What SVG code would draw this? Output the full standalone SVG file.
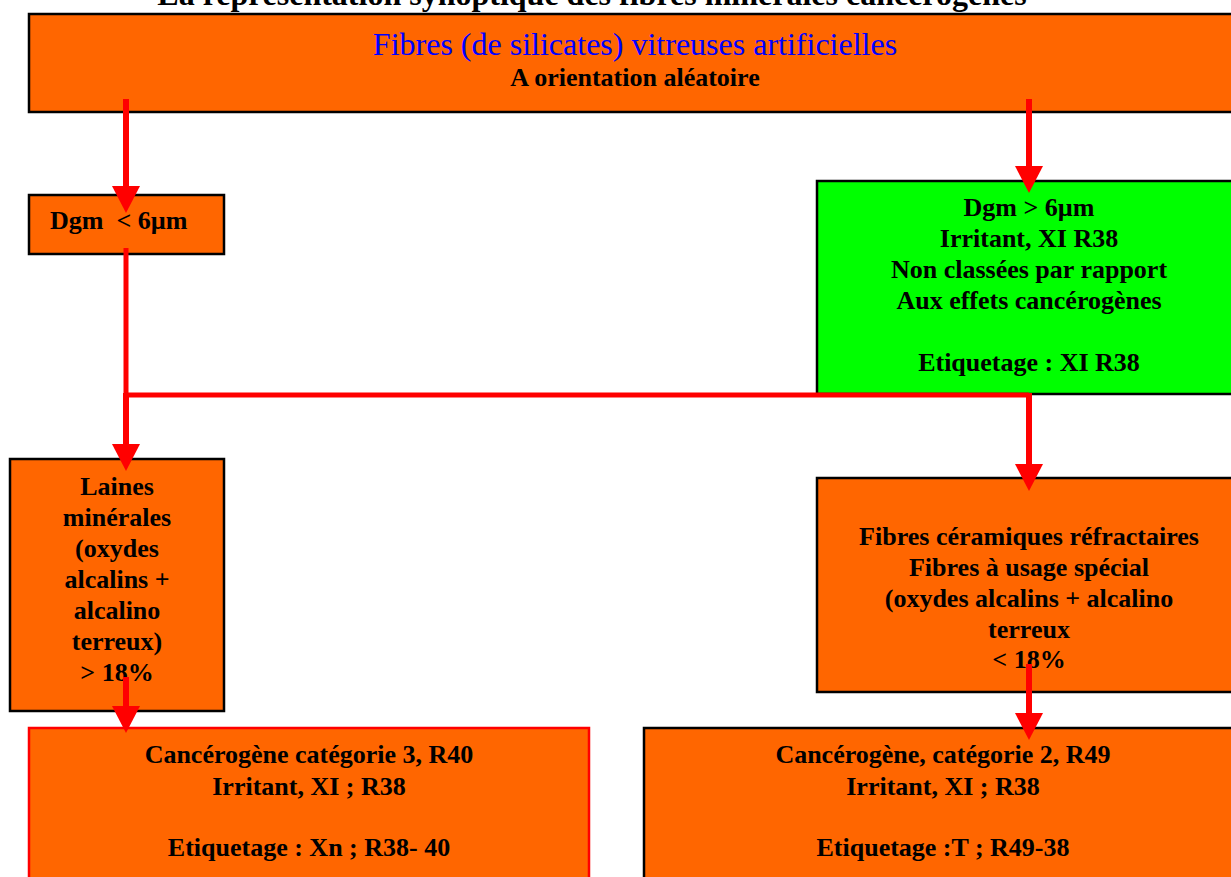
<svg xmlns="http://www.w3.org/2000/svg" width="1231" height="877" viewBox="0 0 1231 877">
<defs>
<style>
.t{font-family:"Liberation Serif","Times New Roman",serif;font-weight:bold;font-size:26px;fill:#000;text-anchor:middle}
.blue{font-family:"Liberation Serif","Times New Roman",serif;font-size:32px;fill:#0000FF;text-anchor:middle}
.title{font-family:"Liberation Serif","Times New Roman",serif;font-weight:bold;font-size:32px;fill:#000;text-anchor:middle}
.orange{fill:#FF6600;stroke:#000;stroke-width:2.5}
.green{fill:#00FF00;stroke:#000;stroke-width:2.5}
.redb{fill:#FF6600;stroke:#FF0000;stroke-width:2.5}
.c{fill:none;stroke:#FF0000;stroke-width:6}
</style>
<marker id="ah" markerUnits="userSpaceOnUse" markerWidth="28" markerHeight="28" viewBox="0 0 27 28" refX="3" refY="14" orient="auto">
<path d="M0,0 L27,14 L0,28 z" fill="#FF0000"/>
</marker>
</defs>
<rect width="1231" height="877" fill="#fff"/>
<text class="title" x="592" y="5">La représentation synoptique des fibres minérales cancérogènes</text>

<g id="top">
<rect class="orange" x="29" y="14" width="1213" height="98"/>
<text class="blue" x="635" y="55">Fibres (de silicates) vitreuses artificielles</text>
<text class="t" x="635" y="86">A orientation aléatoire</text>
</g>

<g id="dgm-small">
<rect class="orange" x="29" y="195" width="195" height="59"/>
<text class="t" x="50" y="229" style="text-anchor:start;white-space:pre" xml:space="preserve">Dgm  &lt; 6µm</text>
</g>

<g id="dgm-large">
<rect class="green" x="817" y="181" width="425" height="213"/>
<text class="t" x="1029" y="216">Dgm &gt; 6µm</text>
<text class="t" x="1029" y="247">Irritant, XI R38</text>
<text class="t" x="1029" y="278">Non classées par rapport</text>
<text class="t" x="1029" y="309">Aux effets cancérogènes</text>
<text class="t" x="1029" y="371">Etiquetage : XI R38</text>
</g>

<g id="laines">
<rect class="orange" x="10" y="459" width="214" height="252"/>
<text class="t" x="117" y="495">Laines</text>
<text class="t" x="117" y="526">minérales</text>
<text class="t" x="117" y="557">(oxydes</text>
<text class="t" x="117" y="588">alcalins +</text>
<text class="t" x="117" y="619">alcalino</text>
<text class="t" x="117" y="650">terreux)</text>
<text class="t" x="117" y="681">&gt; 18%</text>
</g>

<g id="ceramiques">
<rect class="orange" x="817" y="478" width="425" height="214"/>
<text class="t" x="1029" y="545">Fibres céramiques réfractaires</text>
<text class="t" x="1029" y="576">Fibres à usage spécial</text>
<text class="t" x="1029" y="607">(oxydes alcalins + alcalino</text>
<text class="t" x="1029" y="638">terreux</text>
<text class="t" x="1029" y="668">&lt; 18%</text>
</g>

<g id="cat3">
<rect class="redb" x="29" y="728" width="560" height="160"/>
<text class="t" x="309" y="763">Cancérogène catégorie 3, R40</text>
<text class="t" x="309" y="795">Irritant, XI ; R38</text>
<text class="t" x="309" y="856">Etiquetage : Xn ; R38- 40</text>
</g>

<g id="cat2">
<rect class="orange" x="644" y="728" width="598" height="160"/>
<text class="t" x="943" y="763">Cancérogène, catégorie 2, R49</text>
<text class="t" x="943" y="795">Irritant, XI ; R38</text>
<text class="t" x="943" y="856">Etiquetage :T ; R49-38</text>
</g>

<g id="connectors">
<path class="c" d="M126,99 V189" marker-end="url(#ah)"/>
<path class="c" d="M1029,99 V169" marker-end="url(#ah)"/>
<path class="c" d="M126,248 V395 H1029" style="stroke-width:5"/>
<path class="c" d="M126,393 V447" marker-end="url(#ah)"/>
<path class="c" d="M1029,393 V467" marker-end="url(#ah)"/>
<path class="c" d="M126,677 V709" marker-end="url(#ah)"/>
<path class="c" d="M1029,664 V716" marker-end="url(#ah)"/>
</g>
</svg>
